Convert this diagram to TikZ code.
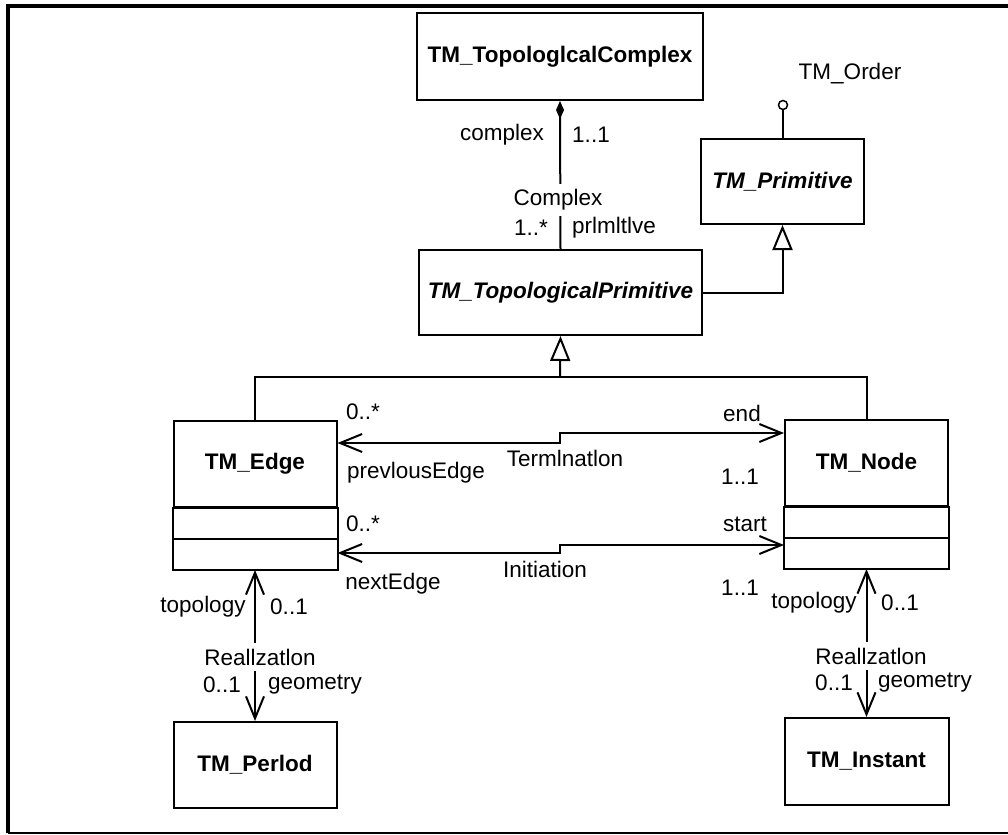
\documentclass[tikz,border=0pt]{standalone}
\usepackage{fontspec}
\setmainfont{Liberation Sans}
\usetikzlibrary{arrows.meta}

\begin{document}
\begin{tikzpicture}[x=0.5pt,y=-0.5pt,line width=1pt,
  every node/.style={font=\fontsize{11.25}{13.5}\selectfont},
  box/.style={draw,rectangle,inner sep=0pt,font=\fontsize{11.25}{13.5}\selectfont\bfseries},
  abox/.style={box,font=\fontsize{11.25}{13.5}\selectfont\bfseries\itshape},
  lbl/.style={inner sep=0pt},
  aname/.style={fill=white,inner sep=3pt},
  >={Straight Barb[length=11pt,width=9pt]},
  gen/.style={-{Triangle[open,length=12.5pt,width=10pt,fill=white]}},
  comp/.style={-{Diamond[length=9pt,width=4pt]}}]
  \useasboundingbox (0,0) rectangle (1008,835);
  % frame
  \draw[line width=2pt] (1008,5.5) -- (8,5.5) -- (8,833);
  \draw[line width=0.8pt] (8,833) -- (1008,833);

  % classes
  \node[box,minimum width=143pt,minimum height=43.5pt] (cplx) at (560,56.5) {TM\_TopologlcalComplex};
  \node[abox,minimum width=141.5pt,minimum height=42.5pt] (tprim) at (560.5,292.5) {TM\_TopologicalPrimitive};
  \node[abox,minimum width=81.5pt,minimum height=42.5pt] (prim) at (782.5,181.5) {TM\_Primitive};
  \node[box,minimum width=81.5pt,minimum height=43pt] (tedge) at (255,464) {TM\_Edge};
  \node[box,minimum width=81.5pt,minimum height=43pt] (tnode) at (866.5,463) {TM\_Node};
  \node[box,minimum width=81.5pt,minimum height=43pt] (period) at (255,765) {TM\_Perlod};
  \node[box,minimum width=82pt,minimum height=43.5pt] (instant) at (866.5,761.5) {TM\_Instant};

  % empty compartments
  \draw (tedge.south west) rectangle ([yshift=-31pt]tedge.south east);
  \draw ([yshift=-15.5pt]tedge.south west) -- ([yshift=-15.5pt]tedge.south east);
  \draw (tnode.south west) rectangle ([yshift=-31pt]tnode.south east);
  \draw ([yshift=-15.5pt]tnode.south west) -- ([yshift=-15.5pt]tnode.south east);

  % interface
  \node[circle,draw,inner sep=0pt,minimum size=4.5pt,line width=0.75pt] (ord) at (783,105) {};
  \draw (ord) -- (ord |- prim.north);
  \node[lbl] (ordl) at (850,74) {TM\_Order};

  % composition
  \draw[comp] (tprim.north) -- (cplx.south);
  \node[aname] (cname) at (558,200) {Complex};
  \node[lbl] (c1) at (502,135) {complex};
  \node[lbl] (c2) at (591,135) {1..1};
  \node[lbl] (c3) at (531,228) {1..*};
  \node[lbl] (c4) at (614,228) {prlmltlve};

  % generalizations
  \coordinate (j) at (560,377);
  \draw (tedge.north) |- (j) -| (tnode.north);
  \draw[gen] (j) -- (tprim.south);
  \draw[gen] (tprim.east) -| (prim.south);

  % Termination
  \draw[<->] ([yshift=10.5pt]tedge.east) -| (560,438) |- ([yshift=15pt]tnode.west);
  \node[lbl] (t1) at (363,412) {0..*};
  \node[lbl] (t2) at (416,473) {prevlousEdge};
  \node[lbl] (t3) at (565,458) {Termlnatlon};
  \node[lbl] (t4) at (742,413) {end};
  \node[lbl] (t5) at (740,477) {1..1};

  % Initiation
  \draw[<->] ([yshift=-44.5pt]tedge.east) -| (560,549) |- ([yshift=-41pt]tnode.west);
  \node[lbl] (i1) at (363,524) {0..*};
  \node[lbl] (i2) at (393,584) {nextEdge};
  \node[lbl] (i3) at (545,569) {Initiation};
  \node[lbl] (i4) at (745,524) {start};
  \node[lbl] (i5) at (740,588) {1..1};

  % Realization (edge)
  \draw[<->] ([yshift=-31pt]tedge.south) -- (period.north);
  \node[aname] (r1) at (260,657) {Reallzatlon};
  \node[lbl] (r2) at (203,607) {topology};
  \node[lbl] (r3) at (289,607) {0..1};
  \node[lbl] (r4) at (222,685) {0..1};
  \node[lbl] (r5) at (315,685) {geometry};

  % Realization (node)
  \draw[<->] ([yshift=-31pt]tnode.south) -- (instant.north);
  \node[aname] (s1) at (871,656) {Reallzatlon};
  \node[lbl] (s2) at (814,603) {topology};
  \node[lbl] (s3) at (900,603) {0..1};
  \node[lbl] (s4) at (834,683) {0..1};
  \node[lbl] (s5) at (925,683) {geometry};
\end{tikzpicture}
\end{document}
